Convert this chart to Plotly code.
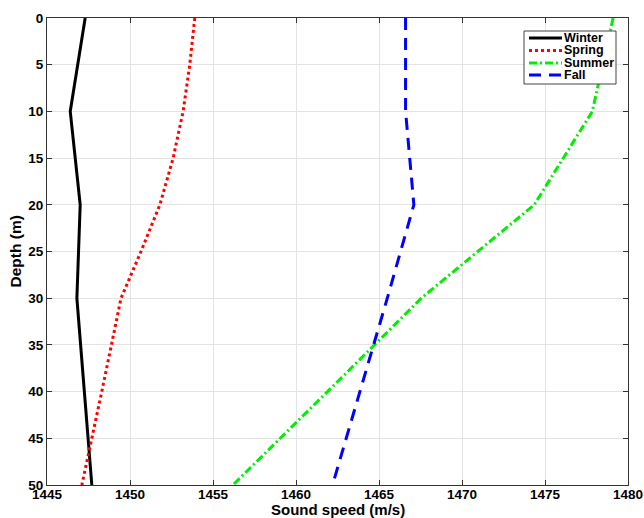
import plotly.graph_objects as go

depth = [0, 10, 20, 30, 40, 50]
depth_spring = [0, 5, 10, 15, 20, 25, 30, 35, 40, 45, 50]

winter = [1447.3, 1446.4, 1447.0, 1446.8, 1447.25, 1447.7]
spring = [1453.9, 1453.6, 1453.2, 1452.6, 1451.8, 1450.66, 1449.46, 1448.9, 1448.3, 1447.7, 1447.1]
summer = [1479.1, 1477.85, 1474.35, 1467.55, 1461.9, 1456.2]
fall = [1466.6, 1466.6, 1467.1, 1465.5, 1463.85, 1462.2]

series_names = ["Winter", "Spring", "Summer", "Fall"]
x_ticks = [1445, 1450, 1455, 1460, 1465, 1470, 1475, 1480]
y_ticks = [0, 5, 10, 15, 20, 25, 30, 35, 40, 45, 50]

FONT = "Liberation Sans"
W, H = 644, 518
ML, MR, MT, MB = 47, 16, 18, 33
PW, PH = W - ML - MR, H - MT - MB

styles = [
    dict(color="black", width=3, dash="solid"),
    dict(color="#ff0000", width=3, dash="3px,3px"),
    dict(color="#00ee00", width=3, dash="8px,3px,2px,3px"),
    dict(color="#0000ff", width=3, dash="12px,8px"),
]
xs = [winter, spring, summer, fall]
ys = [depth, depth_spring, depth, depth]

fig = go.Figure()
for name, x, y, st in zip(series_names, xs, ys, styles):
    fig.add_trace(go.Scatter(x=x, y=y, mode="lines", name=name, line=st,
                             showlegend=False))

def px(v):
    return (v - ML) / PW

def py(v):
    return (H - MB - v) / PH

# manual legend box (MATLAB-style compact)
shapes = [dict(type="rect", xref="paper", yref="paper",
               x0=px(524), x1=px(616), y0=py(84), y1=py(31),
               line=dict(color="#444444", width=1), fillcolor="white", layer="above")]
annotations = []
row_y = [38, 50.5, 63, 75]
for name, st, ry in zip(series_names, styles, row_y):
    shapes.append(dict(type="line", xref="paper", yref="paper",
                       x0=px(529), x1=px(562), y0=py(ry), y1=py(ry),
                       line=dict(color=st["color"], width=3, dash=st["dash"]),
                       layer="above"))
    annotations.append(dict(xref="paper", yref="paper", x=px(563), y=py(ry),
                            xanchor="left", yanchor="middle", text=name,
                            showarrow=False, borderpad=0,
                            font=dict(family=FONT, size=12.5, color="black", weight="bold")))

# axis titles placed as annotations
annotations.append(dict(xref="paper", yref="paper", x=0.5, y=py(509.5),
                        xanchor="center", yanchor="middle", text="Sound speed (m/s)",
                        showarrow=False, borderpad=0,
                        font=dict(family=FONT, size=15, color="black", weight="bold")))
annotations.append(dict(xref="paper", yref="paper", x=px(15), y=0.5,
                        xanchor="center", yanchor="middle", text="Depth (m)",
                        textangle=-90, showarrow=False, borderpad=0,
                        font=dict(family=FONT, size=15.5, color="black", weight="bold")))

axis_common = dict(
    showgrid=True, gridcolor="#e3e3e3", gridwidth=1,
    showline=True, linecolor="#333333", linewidth=1, mirror="allticks",
    ticks="inside", ticklen=5, tickcolor="#333333",
    zeroline=False, ticklabeloverflow="allow", automargin=False,
    tickfont=dict(family=FONT, size=13.5, color="black", weight="bold"),
)

fig.update_layout(
    width=W, height=H,
    margin=dict(l=ML, r=MR, t=MT, b=MB, autoexpand=False),
    paper_bgcolor="white", plot_bgcolor="white",
    font=dict(family=FONT, color="black"),
    xaxis=dict(range=[1445, 1480], tickvals=x_ticks, ticklabelstandoff=-3,
               **axis_common),
    yaxis=dict(range=[50, 0], tickvals=y_ticks, ticklabelstandoff=0,
               **axis_common),
    shapes=shapes,
    annotations=annotations,
    showlegend=False,
)

fig.write_html("out.html")
